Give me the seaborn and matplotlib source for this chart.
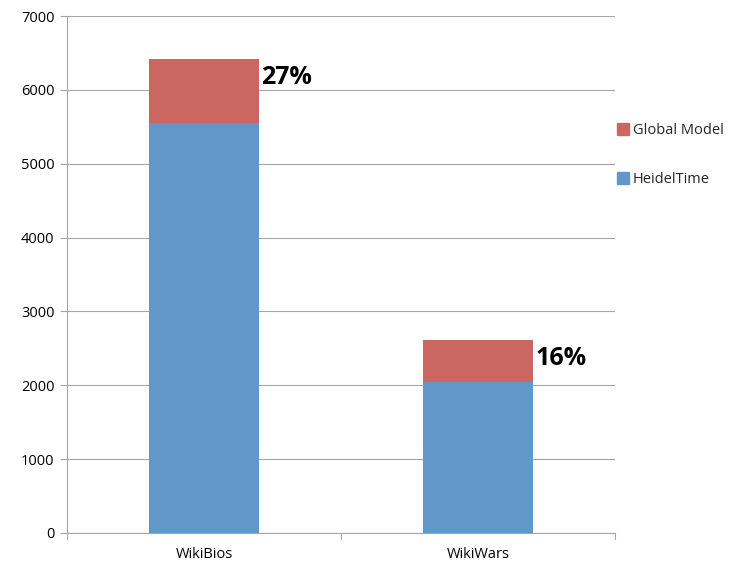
import matplotlib
matplotlib.use("Agg")
import matplotlib.pyplot as plt
import seaborn as sns
import pandas as pd
from matplotlib.lines import Line2D

categories = ["WikiBios", "WikiWars"]
heideltime = [5550, 2050]
global_model = [870, 560]
pct_labels = ["27%", "16%"]
yticks = [0, 1000, 2000, 3000, 4000, 5000, 6000, 7000]

sns.set_theme(style="white")
plt.rcParams['font.family'] = ['Open Sans', 'DejaVu Sans']

blue = "#6297CA"
red = "#CB6661"
grid_c = "#A6A6A6"

totals = [h + g for h, g in zip(heideltime, global_model)]
df_tot = pd.DataFrame({"cat": categories, "val": totals})
df_h = pd.DataFrame({"cat": categories, "val": heideltime})

fig = plt.figure(figsize=(7.32, 5.68), dpi=100)
ax = fig.add_axes([67/732, 35/568, (615-67)/732, (533-16)/568])

sns.barplot(data=df_tot, x="cat", y="val", color=red, width=0.4, ax=ax,
            saturation=1, zorder=3, linewidth=0)
sns.barplot(data=df_h, x="cat", y="val", color=blue, width=0.4, ax=ax,
            saturation=1, zorder=4, linewidth=0)

ax.set_xlim(-0.5, 1.5)
ax.set_ylim(0, 7000)
ax.set_yticks(yticks)
ax.set_yticklabels([str(t) for t in yticks], fontsize=10.5, color="#000000")
ax.set_xticks([0, 1])
ax.set_xticklabels(categories, fontsize=10.5, color="#000000")
ax.set_xlabel("")
ax.set_ylabel("")
ax.yaxis.grid(True, color=grid_c, linewidth=0.8, zorder=0)
ax.set_axisbelow(True)

for s in ["top", "right"]:
    ax.spines[s].set_visible(False)
for s in ["left", "bottom"]:
    ax.spines[s].set_color(grid_c)
    ax.spines[s].set_linewidth(0.8)

ax.tick_params(axis="y", length=5, color=grid_c, width=0.8, left=True, pad=4)
ax.tick_params(axis="x", length=0, pad=10)
for xb in [-0.5, 0.5, 1.5]:
    ax.plot([xb, xb], [0, -0.012], transform=ax.get_xaxis_transform(),
            color=grid_c, linewidth=0.8, clip_on=False)

for i, (t, lab) in enumerate(zip(totals, pct_labels)):
    ax.text(i + 0.2 + 0.01, t - 250, lab, fontsize=18, fontweight="bold",
            ha="left", va="center", color="#000000", zorder=5)

handles = [Line2D([0], [0], marker="s", linestyle="none", markersize=8,
                  markerfacecolor=red, markeredgecolor=red),
           Line2D([0], [0], marker="s", linestyle="none", markersize=8,
                  markerfacecolor=blue, markeredgecolor=blue)]
leg = fig.legend(handles, ["Global Model", "HeidelTime"], loc="center left",
                 bbox_to_anchor=(606/732, 1 - 155/568), frameon=False,
                 fontsize=10.5, labelspacing=2.3, handletextpad=0.15,
                 handlelength=1.0, borderpad=0.2)

fig.savefig("out.png", dpi=100)
